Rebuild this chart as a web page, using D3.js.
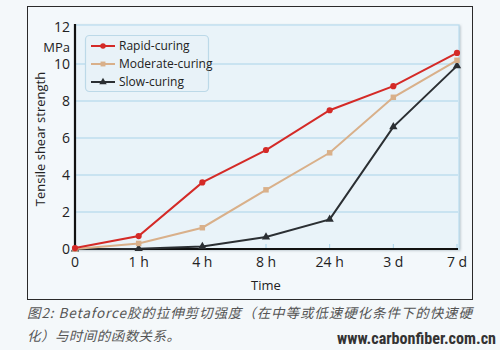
<!DOCTYPE html>
<html><head><meta charset="utf-8">
<script src="https://cdn.jsdelivr.net/npm/d3@7"></script>
<style>
html,body{margin:0;padding:0;background:#f4f8fa;}
svg{display:block;}
</style></head>
<body>
<svg id="c" width="500" height="350"></svg>
<script>
const categories = ["0","1h","4h","8h","24h","3d","7d"];
const xTickLabels = ["0","1 h","4 h","8 h","24 h","3 d","7 d"];
const yTicks = [0,2,4,6,8,10,12];
const rapid = [0.05,0.7,3.6,5.35,7.5,8.8,10.6];
const moderate = [0,0.3,1.15,3.2,5.2,8.2,10.2];
const slow = [0,0.02,0.13,0.65,1.6,6.6,9.9];
const seriesNames = ["Rapid-curing","Moderate-curing","Slow-curing"];
const captionLines = ["图2: Betaforce胶的拉伸剪切强度（在中等或低速硬化条件下的快速硬","化）与时间的函数关系。"];
const watermark = "www.carbonfiber.com.cn";

const svg = d3.select("#c");
const font = "'Open Sans', 'Noto Sans', sans-serif";
svg.append("rect").attr("width",500).attr("height",350).attr("fill","#f4f8fa");
// outer box
svg.append("rect").attr("x",27.5).attr("y",6.5).attr("width",445).attr("height",293)
  .attr("fill","#f3f8fb").attr("stroke","#2a2a2a").attr("stroke-width",1);

const L=75, R=457, T=27, B=249;
const x = d3.scalePoint().domain(categories).range([L,R]);
const y = d3.scaleLinear().domain([0,12]).range([B,T]);

// plot area with shadow
const defs = svg.append("defs");
const f = defs.append("filter").attr("id","sh").attr("x","-5%").attr("y","-5%").attr("width","110%").attr("height","110%");
f.append("feDropShadow").attr("dx",1).attr("dy",1).attr("stdDeviation",1.2).attr("flood-color","#7a8a95").attr("flood-opacity",0.5);
svg.append("rect").attr("x",L).attr("y",T-2).attr("width",R-L+2).attr("height",B-T+2)
  .attr("fill","#e9f3f9").attr("stroke","#b9dcee").attr("stroke-width",1.2).attr("filter","url(#sh)");

// gridlines
svg.append("g").selectAll("line").data(yTicks.filter(d=>d>0&&d<12)).join("line")
  .attr("x1",L).attr("x2",R+1).attr("y1",d=>y(d)).attr("y2",d=>y(d))
  .attr("stroke","#a9d3ea").attr("stroke-width",1.2);

// x ticks (light, inside)
svg.append("g").selectAll("line").data(categories.slice(1)).join("line")
  .attr("x1",d=>x(d)).attr("x2",d=>x(d)).attr("y1",B).attr("y2",B-5)
  .attr("stroke","#a9d3ea").attr("stroke-width",1);

// axes lines
svg.append("line").attr("x1",L).attr("x2",L).attr("y1",T-3).attr("y2",B+1).attr("stroke","#111").attr("stroke-width",2.2);
svg.append("line").attr("x1",L-1).attr("x2",R+1).attr("y1",B).attr("y2",B).attr("stroke","#111").attr("stroke-width",2.2);

// y tick labels
svg.append("g").selectAll("text").data(yTicks).join("text")
  .attr("x",L-5).attr("y",d=>y(d)).attr("dy","0.36em").attr("text-anchor","end")
  .attr("font-family",font).attr("font-size",14).attr("fill","#222").text(d=>d);
svg.append("text").attr("x",L-5).attr("y",47).attr("dy","0.36em").attr("text-anchor","end")
  .attr("font-family",font).attr("font-size",13).attr("fill","#222").text("MPa");

// x tick labels
svg.append("g").selectAll("text").data(categories).join("text")
  .attr("x",d=>x(d)).attr("y",267).attr("text-anchor","middle")
  .attr("font-family",font).attr("font-size",14).attr("fill","#222").text((d,i)=>xTickLabels[i]);

svg.append("text").attr("x",266).attr("y",290).attr("text-anchor","middle")
  .attr("font-family",font).attr("font-size",13).attr("fill","#222").text("Time");
svg.append("text").attr("transform","translate(45,139) rotate(-90)").attr("text-anchor","middle")
  .attr("font-family",font).attr("font-size",13).attr("fill","#222").text("Tensile shear strength");

// series
const series = [
  {name:seriesNames[0], vals:rapid, color:"#d42a27", shape:d3.symbolCircle, size:30},
  {name:seriesNames[1], vals:moderate, color:"#d9b08a", shape:d3.symbolSquare, size:30},
  {name:seriesNames[2], vals:slow, color:"#2b2f33", shape:d3.symbolTriangle, size:30}
];
const line = d3.line().x((d,i)=>x(categories[i])).y(d=>y(d));
series.slice().reverse().forEach(s=>{
  svg.append("path").datum(s.vals).attr("d",line).attr("fill","none")
    .attr("stroke",s.color).attr("stroke-width",2);
  svg.append("g").selectAll("path").data(s.vals).join("path")
    .attr("transform",(d,i)=>`translate(${x(categories[i])},${y(d)})`)
    .attr("d",d3.symbol().type(s.shape).size(s.size)).attr("fill",s.color);
});

// legend
svg.append("rect").attr("x",85.5).attr("y",35.5).attr("width",123).attr("height",56).attr("rx",4)
  .attr("fill","#e8f2f8").attr("stroke","#bcd9e8").attr("stroke-width",1.2);
series.forEach((s,i)=>{
  const ly = 46 + i*18;
  svg.append("line").attr("x1",91).attr("x2",115).attr("y1",ly).attr("y2",ly).attr("stroke",s.color).attr("stroke-width",2);
  svg.append("path").attr("transform",`translate(103,${ly})`).attr("d",d3.symbol().type(s.shape).size(24)).attr("fill",s.color);
  svg.append("text").attr("x",119).attr("y",ly).attr("dy","0.36em").attr("font-family",font)
    .attr("font-size",12).attr("fill","#222").text(s.name);
});

// caption
const capLens = [445, 153];
captionLines.forEach((t,i)=>{
  svg.append("text").attr("x",27).attr("y",318+i*23).attr("font-family","'Noto Sans CJK SC', sans-serif")
    .attr("font-size",13.5).attr("font-style","italic").attr("fill","#555")
    .attr("textLength",capLens[i]).attr("lengthAdjust","spacing").text(t);
});
svg.append("text").attr("x",337).attr("y",344).attr("font-family","'Liberation Sans Narrow','Roboto Condensed','Liberation Sans',sans-serif")
  .attr("font-weight","bold").attr("font-size",16).attr("fill","#333")
  .attr("textLength",159).attr("lengthAdjust","spacingAndGlyphs").text(watermark);
</script>
</body></html>
